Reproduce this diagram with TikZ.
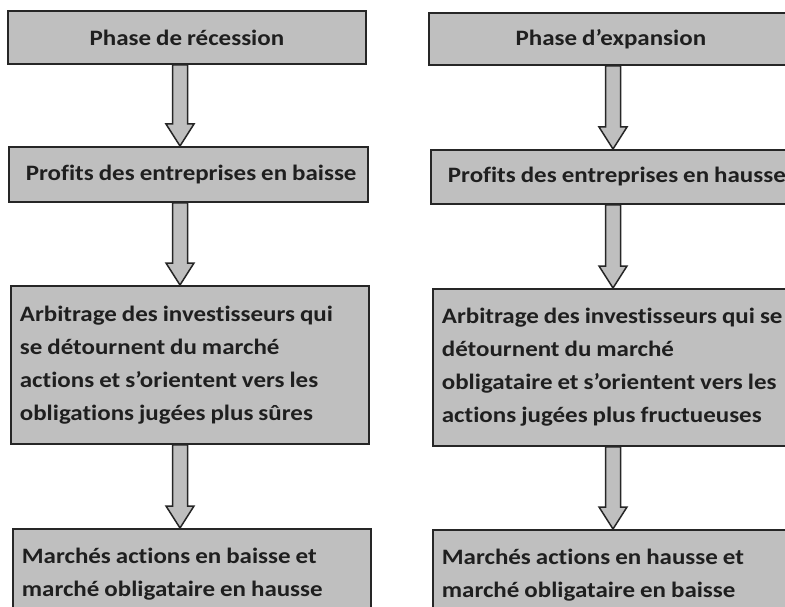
\documentclass[tikz,border=0pt]{standalone}
\usepackage{fontspec}
\setmainfont{Carlito}[FakeStretch=1.135, Ligatures=NoCommon]
\usetikzlibrary{calc}
\definecolor{boxgray}{RGB}{191,191,191}
\definecolor{edgegray}{RGB}{38,38,38}
\tikzset{
  stage/.style={draw=edgegray, line width=1.8pt, fill=boxgray, rectangle,
    anchor=north west, inner xsep=17pt, inner ysep=0pt,
    font=\bfseries\fontsize{22}{33}\selectfont, text=black!88},
  leftstage/.style={stage, inner xsep=9pt},
  blockarrow/.style={draw=edgegray, line width=1.5pt, fill=boxgray, line join=miter},
}
% box contents: lines kept as typed, left-aligned or centred in a fixed width
\newcommand\leftlines[2]{\parbox[c]{#1}{\raggedright #2}}
\newcommand\midlines[2]{\parbox[c]{#1}{\centering #2}}
\newcommand\boxline[1]{\mbox{\spaceskip=5pt\relax #1}}
% hollow block arrow from the bottom of #2 to the top of #3, centred on x = #1
\newcommand\stagearrow[3]{%
  \draw[blockarrow] let \p1=(#2.south), \p2=(#3.north) in
    (#1-7.5pt,\y1) -- (#1+7.5pt,\y1) -- (#1+7.5pt,\y2+22pt) -- (#1+14pt,\y2+22pt)
    -- (#1,\y2) -- (#1-14pt,\y2+22pt) -- (#1-7.5pt,\y2+22pt) -- cycle;}
\begin{document}
\begin{tikzpicture}[x=1pt, y=-1pt]
  \useasboundingbox (0,0) rectangle (785,607);
  \clip (0,0) rectangle (785,607);

  % recession column
  \node[stage, minimum height=53pt] (l1) at (7,10)
    {\midlines{324pt}{\boxline{Phase de récession}}};
  \node[stage, minimum height=55pt] (l2) at (8,146)
    {\midlines{325pt}{\boxline{Profits des entreprises en baisse}}};
  \node[leftstage, minimum height=158pt] (l3) at (10,285)
    {\leftlines{340pt}{\boxline{Arbitrage des investisseurs qui}\\ \boxline{se détournent du marché}\\ \boxline{actions et s’orientent vers les}\\ \boxline{obligations jugées plus sûres}}};
  \node[leftstage, minimum height=90pt] (l4) at (12,528)
    {\leftlines{340pt}{\boxline{Marchés actions en baisse et}\\ \boxline{marché obligataire en hausse}}};

  % expansion column
  \node[stage, minimum height=52pt] (r1) at (428,12)
    {\midlines{330pt}{\boxline{Phase d’expansion}}};
  \node[stage, minimum height=54pt] (r2) at (430,149)
    {\midlines{328pt}{\boxline{Profits des entreprises en hausse}}};
  \node[leftstage, minimum height=157pt] (r3) at (432,288)
    {\leftlines{342pt}{\boxline{Arbitrage des investisseurs qui se}\\ \boxline{détournent du marché}\\ \boxline{obligataire et s’orientent vers les}\\ \boxline{actions jugées plus fructueuses}}};
  \node[leftstage, minimum height=90pt] (r4) at (432,529)
    {\leftlines{342pt}{\boxline{Marchés actions en hausse et}\\ \boxline{marché obligataire en baisse}}};

  \stagearrow{180pt}{l1}{l2}
  \stagearrow{180pt}{l2}{l3}
  \stagearrow{180pt}{l3}{l4}
  \stagearrow{613pt}{r1}{r2}
  \stagearrow{613pt}{r2}{r3}
  \stagearrow{613pt}{r3}{r4}
\end{tikzpicture}
\end{document}
